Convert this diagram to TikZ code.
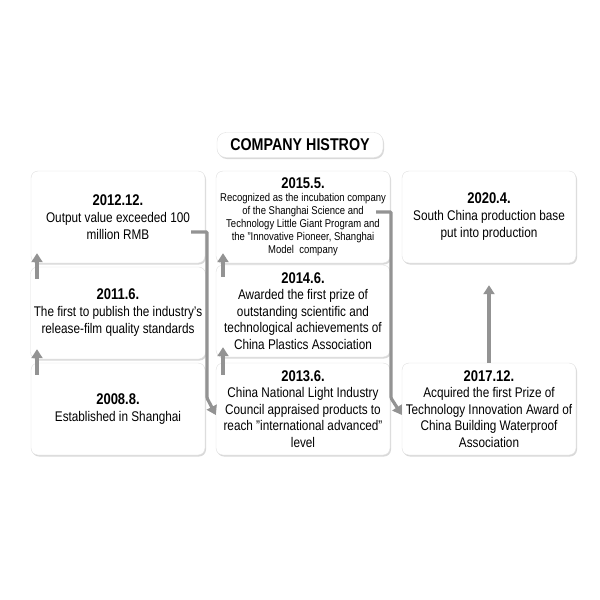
\documentclass[tikz,border=0pt]{standalone}
\usepackage{fontspec}
\setmainfont{Liberation Sans}[FakeStretch=0.84]
\usetikzlibrary{shadows,arrows.meta}
\begin{document}
\begin{tikzpicture}[x=1pt,y=-1pt,
  box/.style={draw=gray!25,fill=white,rounded corners=7pt,minimum width=174pt,minimum height=92pt,align=center,font=\fontsize{14}{17}\selectfont,drop shadow={shadow xshift=1pt,shadow yshift=-1.5pt,opacity=0.3}},
  conn/.style={draw=gray!85,line width=3.2pt,-{Triangle[length=9pt,width=11pt]}}]
\useasboundingbox (0,0) rectangle (600,600);
\node[draw=gray!25,fill=white,rounded corners=9pt,minimum width=166pt,minimum height=25pt,font=\bfseries\fontsize{17}{19}\selectfont,drop shadow={shadow xshift=1pt,shadow yshift=-1.5pt,opacity=0.3}] (t) at (300,145) {COMPANY HISTROY};
\node[box] (a) at (118,409) {\textbf{\fontsize{15.5}{19}\selectfont 2008.8.}\\Established in Shanghai};
\node[box] (b) at (118,313) {\textbf{\fontsize{15.5}{19}\selectfont 2011.6.}\\The first to publish the industry's\\release-film quality standards};
\node[box] (c) at (118,217) {\textbf{\fontsize{15.5}{19}\selectfont 2012.12.}\\Output value exceeded 100\\million RMB};
\node[box,font=\fontsize{14}{16.5}\selectfont] (d) at (303,409) {\textbf{\fontsize{15.5}{17}\selectfont 2013.6.}\\China National Light Industry\\Council appraised products to\\reach "international advanced"\\level};
\node[box,font=\fontsize{14}{16.5}\selectfont] (e) at (303,311) {\textbf{\fontsize{15.5}{17}\selectfont 2014.6.}\\Awarded the first prize of\\outstanding scientific and\\technological achievements of\\China Plastics Association};
\node[box,font=\fontsize{11.3}{13}\selectfont] (f) at (303,217) {\textbf{\fontsize{15.5}{16}\selectfont 2015.5.}\\Recognized as the incubation company\\of the Shanghai Science and\\Technology Little Giant Program and\\the "Innovative Pioneer, Shanghai\\Model\ \ company};
\node[box,font=\fontsize{14}{16.5}\selectfont] (g) at (489,409) {\textbf{\fontsize{15.5}{17}\selectfont 2017.12.}\\Acquired the first Prize of\\Technology Innovation Award of\\China Building Waterproof\\Association};
\node[box] (h) at (489,217) {\textbf{\fontsize{15.5}{19}\selectfont 2020.4.}\\South China production base\\put into production};
\coordinate (c1) at (191,232);
\coordinate (f1) at (376,212);
\draw[conn] ([xshift=-81pt,yshift=-12pt]a.north) -- ([xshift=-81pt,yshift=10pt]b.south);
\draw[conn] ([xshift=-81pt,yshift=-12pt]b.north) -- ([xshift=-81pt,yshift=10pt]c.south);
\draw[conn] ([xshift=-80pt,yshift=-12pt]d.north) -- ([xshift=-80pt,yshift=10pt]e.south);
\draw[conn] ([xshift=-80pt,yshift=-12pt]e.north) -- ([xshift=-80pt,yshift=10pt]f.south);
\draw[conn] (g.north) -- ([yshift=-22pt]h.south);
\draw[conn,rounded corners=1pt] (c1) -- (207,232) -- (207,398) -- ([yshift=-6pt]d.west);
\draw[conn,rounded corners=1pt] (f1) -- (391,212) -- (391,398) -- ([yshift=-6pt]g.west);
\end{tikzpicture}
\end{document}
